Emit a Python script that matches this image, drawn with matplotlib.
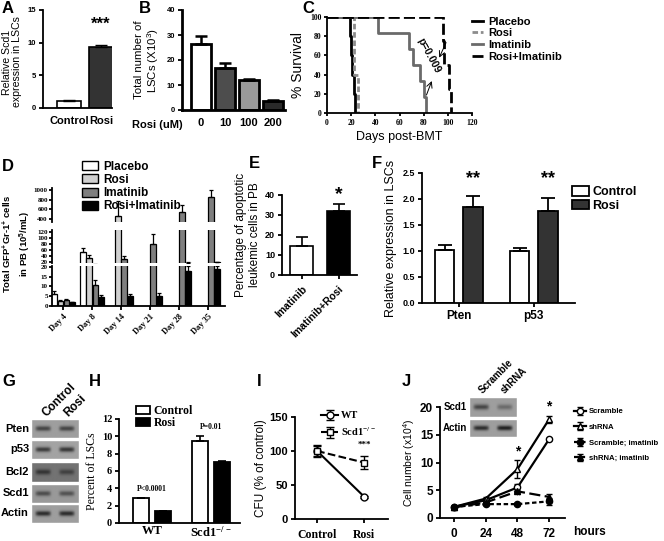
import numpy as np
import matplotlib.pyplot as plt
from matplotlib.patches import Patch

W, H = 664, 541
SANS = 'Liberation Sans'
SERIF = 'Liberation Serif'
plt.rcParams['font.family'] = SANS
plt.rcParams['font.weight'] = 'bold'
plt.rcParams['axes.linewidth'] = 1.3
plt.rcParams['xtick.major.width'] = 1.3
plt.rcParams['ytick.major.width'] = 1.3
plt.rcParams['xtick.major.size'] = 3
plt.rcParams['ytick.major.size'] = 3
plt.rcParams['mathtext.default'] = 'regular'

# ---- data ----
# A
a_groups = ['Control', 'Rosi']
a_vals = [1.1, 9.4]
a_err = [0.15, 0.2]
# B
b_doses = ['0', '10', '100', '200']
b_vals = [26.5, 17.0, 12.0, 3.8]
b_err = [3.0, 1.7, 0.6, 0.4]
# C (Kaplan-Meier steps)
c_placebo_t = [0, 19, 20, 21, 22, 23]
c_placebo_s = [100, 80, 60, 40, 20, 0]
c_rosi_t = [0, 22, 26]
c_rosi_s = [100, 40, 0]
c_imat_t = [0, 42, 68, 71, 77, 80, 82]
c_imat_s = [100, 83.3, 66.7, 50, 33.3, 16.7, 0]
c_combo_t = [0, 96, 97, 101, 103]
c_combo_s = [100, 75, 50, 25, 0]
# D
d_days = ['Day 4', 'Day 8', 'Day 14', 'Day 21', 'Day 28', 'Day 35']
d_series = ['Placebo', 'Rosi', 'Imatinib', 'Rosi+Imatinib']
d_placebo = [6, 55, 0, 0, 0, 0]
d_placebo_err = [1.5, 13, 0, 0, 0, 0]
d_rosi = [2.5, 33, 470, 0, 0, 0]
d_rosi_err = [0.5, 9, 300, 0, 0, 0]
d_imat = [3.2, 11, 30, 80, 550, 850]
d_imat_err = [0.6, 2.5, 10, 32, 130, 150]
d_combo = [2.0, 4.5, 5, 5, 18, 19]
d_combo_err = [0.3, 1.0, 1.0, 1.5, 2.5, 1.5]
# E
e_groups = ['Imatinib', 'Imatinib+Rosi']
e_vals = [14.5, 32.0]
e_err = [4.5, 3.3]
# F
f_genes = ['Pten', 'p53']
f_control = [1.02, 1.0]
f_control_err = [0.1, 0.05]
f_rosi = [1.85, 1.77]
f_rosi_err = [0.2, 0.25]
# G
g_proteins = ['Pten', 'p53', 'Bcl2', 'Scd1', 'Actin']
g_lanes = ['Control', 'Rosi']
g_bands = [[0.35, 0.35], [0.4, 0.42], [0.25, 0.2], [0.3, 0.28], [0.45, 0.45]]
g_bg = [0.62, 0.64, 0.45, 0.6, 0.62]
# H
h_groups = ['WT', 'Scd1$^{-/-}$']
h_control = [2.9, 9.5]
h_control_err = [0, 0.55]
h_rosi = [1.35, 7.0]
h_rosi_err = [0, 0.15]
# I
i_x = ['Control', 'Rosi']
i_wt = [100, 33]
i_wt_err = [8, 1.5]
i_ko = [100, 83]
i_ko_err = [9, 9]
# J
j_hours = [0, 24, 48, 72]
j_scr = [2.0, 3.2, 5.5, 14.2]
j_scr_err = [0.2, 0.3, 0.6, 0.2]
j_sh = [2.0, 3.5, 8.8, 17.8]
j_sh_err = [0.2, 0.3, 1.6, 0.6]
j_scr_im = [2.0, 2.5, 2.5, 3.0]
j_scr_im_err = [0.1, 0.2, 0.15, 0.6]
j_sh_im = [1.9, 2.8, 4.8, 3.8]
j_sh_im_err = [0.1, 0.3, 0.3, 0.6]
j_blot_rows = ['Scd1', 'Actin']
j_blot_lanes = ['Scramble', 'shRNA']
j_bands = [[0.35, 0.2], [0.45, 0.5]]
j_bg = [0.62, 0.62]

fig = plt.figure(figsize=(W / 100, H / 100), dpi=100)


def ax_px(x0, y0, x1, y1):
    return fig.add_axes([x0 / W, 1 - y1 / H, (x1 - x0) / W, (y1 - y0) / H])


def txt(x, y, s, **kw):
    fig.text(x / W, 1 - y / H, s, **kw)


def clean(ax):
    ax.spines[['top', 'right']].set_visible(False)


def up_err(ax, x, v, e, cap=3, lw=1.3):
    ax.errorbar(x, v, yerr=[np.zeros(len(e)), e], fmt='none', ecolor='black',
                capsize=cap, elinewidth=lw, capthick=lw)


def blot(x0, y0, x1, y1, bands, bg):
    ax = ax_px(x0, y0, x1, y1)
    yy = np.linspace(-1, 1, 24)[:, None]
    xx = np.linspace(0, 1, 60)[None, :]
    img = np.full((24, 60), bg)
    n = len(bands)
    for i, b in enumerate(bands):
        c = (i + 0.5) / n
        img = img - b * np.exp(-(yy / 0.28) ** 2) * np.exp(-((xx - c) / (0.32 / n)) ** 6)
    ax.imshow(img, cmap='gray', vmin=0, vmax=1, aspect='auto', interpolation='bilinear')
    ax.set_xticks([])
    ax.set_yticks([])
    for s in ax.spines.values():
        s.set_edgecolor('white')
        s.set_linewidth(1)
    return ax


# panel letters
for lab, x, y in [('A', 2, 13), ('B', 139, 13), ('C', 302, 13), ('D', 2, 171),
                  ('E', 249, 168), ('F', 372, 168), ('G', 2, 386), ('H', 89, 386),
                  ('I', 257, 386), ('J', 402, 386)]:
    txt(x, y, lab, fontsize=12, fontweight='bold', va='baseline')

# ---- A ----
ax = ax_px(43, 10, 112, 108)
ax.bar(range(2), a_vals, width=0.75, color=['white', '#333333'], edgecolor='black', lw=1.2)
up_err(ax, range(2), a_vals, a_err, cap=4, lw=1)
ax.set_xlim(-0.81, 1.34)
ax.set_ylim(0, 15)
ax.set_yticks([0, 5, 10, 15])
ax.set_xticks(range(2))
ax.set_xticklabels(a_groups, fontsize=8)
ax.tick_params(axis='y', labelsize=5.5, pad=2)
ax.tick_params(axis='x', length=0, pad=6)
ax.set_ylabel('Relative Scd1\nexpression in LSCs', fontsize=7.6, linespacing=1.1)
ax.yaxis.set_label_coords(-0.3, 0.47)
ax.text(1, 12.2, '***', ha='center', fontsize=12)
clean(ax)

# ---- B ----
ax = ax_px(182, 10, 285, 110)
ax.bar(range(4), b_vals, width=0.85, color=['white', '#4d4d4d', '#9a9a9a', '#2a2a2a'],
       edgecolor='black', lw=2)
up_err(ax, range(4), b_vals, b_err, cap=4, lw=1.8)
ax.set_xlim(-0.79, 3.5)
ax.set_ylim(0, 40)
ax.set_yticks([0, 10, 20, 30, 40])
ax.set_xticks(range(4))
ax.set_xticklabels(b_doses, fontsize=8)
ax.tick_params(axis='y', labelsize=5.5, pad=2)
ax.tick_params(axis='x', length=0, pad=6)
ax.set_ylabel('Total number of\nLSCs (X10$^{3}$)', fontsize=8.2, labelpad=4, linespacing=1.1)
for s in ['left', 'bottom']:
    ax.spines[s].set_linewidth(2)
clean(ax)
txt(157, 128, 'Rosi (uM)', fontsize=8, ha='center')

# ---- C ----
ax = ax_px(327, 17, 472, 113)
ax.step(c_placebo_t, c_placebo_s, where='post', color='black', lw=2, label='Placebo')
ax.step(c_rosi_t, c_rosi_s, where='post', color='#8c8c8c', lw=2, dashes=(2, 1), label='Rosi')
ax.step(c_imat_t, c_imat_s, where='post', color='#6a6a6a', lw=2, label='Imatinib')
ax.step(c_combo_t, c_combo_s, where='post', color='black', lw=2, dashes=(4, 1.5),
        label='Rosi+Imatinib')
ax.set_xlim(0, 120)
ax.set_ylim(0, 100)
ax.set_xticks(range(0, 121, 20))
ax.set_yticks(range(0, 101, 20))
for t in ax.get_xticklabels() + ax.get_yticklabels():
    t.set_fontfamily(SERIF)
    t.set_fontsize(5.5)
ax.tick_params(length=2, pad=2)
ax.set_ylabel('% Survival', fontsize=10, labelpad=4)
ax.set_xlabel('Days post-BMT', fontsize=9, labelpad=3)
ax.text(84.5, 60, 'p=0.009', rotation=-62, ha='center', va='center', fontsize=7.5)
ax.annotate('', xy=(91.9, 55), xytext=(99.5, 76),
            arrowprops=dict(arrowstyle='->', lw=0.7, color='black'))
ax.annotate('', xy=(87.5, 36), xytext=(81.5, 16),
            arrowprops=dict(arrowstyle='->', lw=0.7, color='black'))
clean(ax)
fig.legend(handles=ax.get_lines(), loc='upper left', bbox_to_anchor=(466 / W, 1 - 11 / H),
           frameon=False, fontsize=8, handlelength=1.0, handletextpad=0.5,
           labelspacing=0.15, borderpad=0)

# ---- D (broken axis) ----
d_cols = ['white', '#d0d0d0', '#7f7f7f', 'black']
d_vals = [d_placebo, d_rosi, d_imat, d_combo]
d_errs = [d_placebo_err, d_rosi_err, d_imat_err, d_combo_err]
d_off = [-0.315, -0.105, 0.105, 0.315]
segs = [(188, 222, (338, 1041), [400, 600, 800, 1000]),
        (230, 263, (16.7, 126.7), [20, 40, 60, 80, 100, 120]),
        (266, 306, (0, 20.5), [0, 5, 10, 15, 20])]
d_axes = []
for y0, y1, lim, ticks in segs:
    ax = ax_px(52, y0, 225, y1)
    x = np.arange(len(d_days))
    for k in range(4):
        v = np.array(d_vals[k], float)
        e = np.array(d_errs[k], float)
        m = v > 0
        ax.bar(x[m] + d_off[k], v[m], width=0.18, color=d_cols[k], edgecolor='black', lw=0.9)
        up_err(ax, x[m] + d_off[k], v[m], e[m], cap=1.5, lw=0.9)
    ax.set_ylim(*lim)
    ax.set_yticks(ticks)
    ax.set_xlim(-0.385, 5.59)
    for t in ax.get_yticklabels():
        t.set_fontfamily(SERIF)
        t.set_fontsize(5)
    ax.tick_params(axis='y', length=2, pad=1)
    ax.spines[['top', 'right', 'bottom']].set_visible(False)
    ax.set_xticks([])
    d_axes.append(ax)
axd = d_axes[-1]
axd.spines['bottom'].set_visible(True)
axd.set_xticks(range(len(d_days)))
axd.set_xticklabels(d_days, rotation=45, ha='right', rotation_mode='anchor',
                    fontfamily=SERIF, fontsize=6)
axd.tick_params(axis='x', length=3, pad=2)
txt(17, 244, 'Total GFP$^{+}$Gr-1$^{+}$ cells\nin PB (10$^{5}$/mL)', rotation=90,
    ha='center', va='center', fontsize=6.8, linespacing=1.3)
fig.legend(handles=[Patch(facecolor=c, edgecolor='black', lw=1) for c in d_cols],
           labels=d_series, loc='upper left', bbox_to_anchor=(76 / W, 1 - 155 / H),
           frameon=False, fontsize=8.5, handlelength=1.4, handleheight=0.8,
           handletextpad=0.4, labelspacing=0.1, borderpad=0)

# ---- E ----
ax = ax_px(282, 195, 357, 275)
ax.bar(range(2), e_vals, width=0.62, color=['white', 'black'], edgecolor='black', lw=1.2)
up_err(ax, range(2), e_vals, e_err, cap=4, lw=1.2)
ax.set_xlim(-0.53, 1.5)
ax.set_ylim(0, 40)
ax.set_yticks(range(0, 41, 10))
ax.set_xticks(range(2))
ax.set_xticklabels(e_groups, rotation=45, ha='right', rotation_mode='anchor', fontsize=7.5)
ax.tick_params(axis='y', labelsize=6.5, pad=2)
ax.tick_params(axis='x', length=3)
ax.set_ylabel('Percentage of apoptotic\nleukemic cells in PB', fontsize=8.5, labelpad=3,
              linespacing=1.2)
ax.text(1, 38, '*', ha='center', fontsize=14)
clean(ax)

# ---- F ----
ax = ax_px(422, 173, 575, 303)
xf = np.arange(2)
ax.bar(xf - 0.19, f_control, width=0.26, color='white', edgecolor='black', lw=1.3,
       label='Control')
ax.bar(xf + 0.19, f_rosi, width=0.26, color='#333333', edgecolor='black', lw=1.3,
       label='Rosi')
up_err(ax, xf - 0.19, f_control, f_control_err, cap=5, lw=1.3)
up_err(ax, xf + 0.19, f_rosi, f_rosi_err, cap=5, lw=1.3)
ax.set_xlim(-0.49, 1.55)
ax.set_ylim(0, 2.5)
ax.set_yticks(np.arange(0, 2.51, 0.5))
ax.set_yticklabels(['0.0', '0.5', '1.0', '1.5', '2.0', '2.5'])
ax.set_xticks(xf)
ax.set_xticklabels(f_genes, fontsize=8.5)
ax.tick_params(axis='y', labelsize=6.5, pad=2)
ax.tick_params(axis='x', length=3, pad=2)
ax.set_ylabel('Relative expression in LSCs', fontsize=9, labelpad=4)
for xi in xf:
    ax.text(xi + 0.19, 2.3, '**', ha='center', fontsize=13)
clean(ax)
ax.legend(loc='upper left', bbox_to_anchor=(566 / W, 1 - 180 / H),
          bbox_transform=fig.transFigure, frameon=False, fontsize=9, handlelength=1.3,
          handleheight=0.8, handletextpad=0.3, labelspacing=0.1, borderpad=0)

# ---- G (western blot) ----
g_rows = [(419, 438), (440, 459), (462, 482), (484, 503), (504, 523)]
for name, (y0, y1), b, bg in zip(g_proteins, g_rows, g_bands, g_bg):
    blot(31, y0, 79, y1, b, bg)
    txt(29, (y0 + y1) / 2, name, ha='right', va='center', fontsize=8)
for lane, x in zip(g_lanes, [40, 62]):
    txt(x, 416, lane, rotation=45, ha='left', va='baseline', fontsize=8.5)

# ---- H ----
ax = ax_px(119, 419, 240, 523)
xh = np.arange(2)
ax.bar(xh - 0.19, h_control, width=0.27, color='white', edgecolor='black', lw=1.3,
       label='Control')
ax.bar(xh + 0.19, h_rosi, width=0.27, color='black', edgecolor='black', lw=1.3,
       label='Rosi')
up_err(ax, xh - 0.19, h_control, h_control_err, cap=3, lw=1.2)
up_err(ax, xh + 0.19, h_rosi, h_rosi_err, cap=3, lw=1.2)
ax.set_xlim(-0.56, 1.49)
ax.set_ylim(0, 12)
ax.set_yticks(range(0, 13, 2))
ax.set_xticks(xh)
ax.set_xticklabels(h_groups, fontfamily=SERIF, fontsize=9)
for t in ax.get_yticklabels():
    t.set_fontfamily(SERIF)
    t.set_fontsize(7.5)
ax.tick_params(axis='y', pad=2)
ax.tick_params(axis='x', length=0, pad=1.5)
ax.set_ylabel('Percent of LSCs', fontfamily=SERIF, fontsize=8.5, labelpad=3)
ax.text(0, 3.7, 'P<0.0001', ha='center', fontfamily=SERIF, fontsize=5.5)
ax.text(1.0, 10.9, 'P=0.01', ha='center', fontfamily=SERIF, fontsize=5.5)
clean(ax)
ax.legend(loc='upper left', bbox_to_anchor=(130 / W, 1 - 399 / H),
          bbox_transform=fig.transFigure, frameon=False,
          prop=dict(family=SERIF, weight='bold', size=8.5), handlelength=1.2,
          handleheight=0.7, handletextpad=0.3, labelspacing=0.05, borderpad=0)

# ---- I ----
ax = ax_px(295, 417, 388, 519)
xi = np.arange(2)
ax.errorbar(xi, i_wt, yerr=i_wt_err, color='black', lw=1.5, marker='o', ms=5,
            mfc='white', mec='black', mew=1, capsize=3, elinewidth=1, label='WT')
ax.errorbar(xi, i_ko, yerr=i_ko_err, color='black', lw=1.5, ls='--', marker='s', ms=5,
            mfc='white', mec='black', mew=1, capsize=3, elinewidth=1,
            label='Scd1$^{-/-}$')
ax.set_xlim(-0.47, 1.51)
ax.set_ylim(0, 150)
ax.set_yticks([0, 50, 100, 150])
ax.set_xticks(xi)
ax.set_xticklabels(i_x, fontfamily=SERIF, fontsize=8.5)
ax.tick_params(axis='y', labelsize=8, pad=2)
ax.tick_params(axis='x', pad=4)
ax.set_ylabel('CFU (% of control)', fontsize=8.5, labelpad=2)
ax.text(1, 106, '***', ha='center', fontfamily=SERIF, fontsize=6.5)
clean(ax)
ax.legend(loc='upper left', bbox_to_anchor=(316 / W, 1 - 406 / H),
          bbox_transform=fig.transFigure, frameon=False,
          prop=dict(family=SERIF, weight='bold', size=7.5), handlelength=1.6,
          handletextpad=0.3, labelspacing=0.5, borderpad=0)

# ---- J ----
ax = ax_px(440, 407, 565, 518)
j_sets = [(j_scr, j_scr_err, '-', 'o', 'white', 'Scramble'),
          (j_sh, j_sh_err, '-', '^', 'white', 'shRNA'),
          (j_scr_im, j_scr_im_err, (0, (2, 1.2)), 'o', 'black', 'Scramble; imatinib'),
          (j_sh_im, j_sh_im_err, (0, (5, 2)), '^', 'black', 'shRNA; imatinib')]
for v, e, ls, mk, fc, lab in j_sets:
    ax.errorbar(j_hours, v, yerr=e, color='black', lw=1.6, ls=ls, marker=mk, ms=4.5,
                mfc=fc, mec='black', mew=1, capsize=2.5, elinewidth=1, label=lab)
ax.set_xlim(-10.6, 84)
ax.set_ylim(0, 20)
ax.set_yticks(range(0, 21, 5))
ax.set_xticks(j_hours)
ax.tick_params(labelsize=8.5, pad=2)
ax.tick_params(axis='x', pad=4)
ax.set_ylabel('Cell number (x10$^{4}$)', fontsize=7.5, labelpad=2)
for x, y in [(48, 11.3), (72, 19.3), (48, 3.4)]:
    ax.text(x, y, '*', ha='center', fontsize=10)
clean(ax)
txt(589, 535, 'hours', ha='center', va='baseline', fontsize=8.5)
ax.legend(loc='upper left', bbox_to_anchor=(570 / W, 1 - 404 / H),
          bbox_transform=fig.transFigure, frameon=False, fontsize=5.6,
          handlelength=1.6, handletextpad=0.3, labelspacing=1.05, borderpad=0)
for name, (y0, y1), b, bg in zip(j_blot_rows, [(397, 417), (419, 437)], j_bands, j_bg):
    blot(469, y0, 517, y1, b, bg)
    txt(467, (y0 + y1) / 2, name, ha='right', va='center', fontsize=7)
for lane, x in zip(j_blot_lanes, [477, 499]):
    txt(x, 393, lane, rotation=45, ha='left', va='baseline', fontsize=7)

fig.savefig('out.png', dpi=100)
